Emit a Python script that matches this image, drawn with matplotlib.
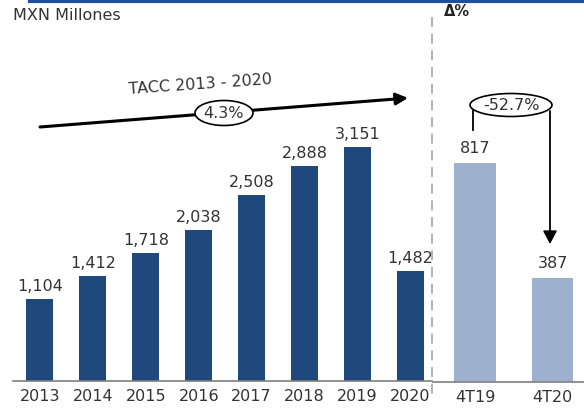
import matplotlib
matplotlib.use("Agg")
import matplotlib.pyplot as plt
from matplotlib.patches import Ellipse, FancyArrowPatch
from matplotlib.lines import Line2D

years = ["2013", "2014", "2015", "2016", "2017", "2018", "2019", "2020"]
annual = [1104, 1412, 1718, 2038, 2508, 2888, 3151, 1482]
quarters = ["4T19", "4T20"]
quarterly = [817, 387]
cagr_label = "TACC 2013 - 2020"
cagr_value = "4.3%"
delta_value = "-52.7%"

W, H = 584, 410
DARK = "#1F497D"
LIGHT = "#9DB0CE"
TXT = "#333333"
FS = 11.5
plt.rcParams['font.family'] = ['DejaVu Sans']

fig = plt.figure(figsize=(W / 100, H / 100), dpi=100)

def fx(x):
    return x / W

def fy(y):
    return 1 - y / H

base_y = 382
top_y = 30
# left axes
axL = fig.add_axes([fx(13), fy(base_y), fx(432) - fx(13), fy(top_y) - fy(base_y)])
xs = list(range(len(years)))
axL.bar(xs, annual, width=0.51, color=DARK)
axL.set_xlim(-0.51, 7.41)
axL.set_ylim(0, (base_y - top_y) / 0.0743)
for x, v in zip(xs, annual):
    axL.text(x, v + 80, f"{v:,}", ha="center", va="bottom", fontsize=FS, color=TXT)
axL.set_xticks(xs)
axL.set_xticklabels(years, fontsize=FS, color=TXT)

# right axes
axR = fig.add_axes([fx(433), fy(base_y + 1), 1 - fx(433), fy(top_y) - fy(base_y + 1)])
xq = list(range(len(quarters)))
axR.bar(xq, quarterly, width=0.53, color=LIGHT)
axR.set_xlim(-0.54, 1.40)
axR.set_ylim(0, (base_y - top_y) / 0.267)
for x, v in zip(xq, quarterly):
    axR.text(x, v + 30, f"{v:,}", ha="center", va="bottom", fontsize=FS, color=TXT)
axR.set_xticks(xq)
axR.set_xticklabels(quarters, fontsize=FS, color=TXT)

for ax in (axL, axR):
    for s in ("top", "right", "left"):
        ax.spines[s].set_visible(False)
    ax.spines["bottom"].set_color("#7F7F7F")
    ax.spines["bottom"].set_linewidth(1.2)
    ax.tick_params(axis="x", length=0, pad=5)
    ax.set_yticks([])
    ax.patch.set_alpha(0)

# top blue rule
fig.add_artist(Line2D([fx(30), 1], [fy(1.5), fy(1.5)], color="#1F4E9E", lw=3))
# dashed separator
fig.add_artist(Line2D([fx(432), fx(432)], [fy(18), fy(398)], color="#A6A6A6",
                      lw=1.2, ls=(0, (6, 4))))

fig.text(fx(13), fy(15), "MXN Millones", fontsize=FS, color=TXT, va="center", ha="left")
fig.text(fx(444), fy(12), "Δ%", fontsize=10.5, fontweight="bold", color="#222222",
         va="center", ha="left")

# CAGR arrow
fig.add_artist(FancyArrowPatch((fx(40), fy(128)), (fx(408), fy(99)), transform=fig.transFigure,
                               arrowstyle="-|>,head_length=5,head_width=2.5", color="black",
                               lw=2.2, mutation_scale=1.4, shrinkA=0, shrinkB=0, zorder=2))
fig.text(fx(200), fy(84), cagr_label, fontsize=FS, color=TXT, ha="center", va="center",
         rotation=4)
fig.add_artist(Ellipse((fx(224), fy(114)), fx(58), fy(0) - fy(25), transform=fig.transFigure,
                       fc="white", ec="black", lw=1.2, zorder=5))
fig.text(fx(224), fy(114), cagr_value, fontsize=FS, color=TXT, ha="center", va="center",
         zorder=6)

# Delta arrow
fig.add_artist(Line2D([fx(473), fx(473)], [fy(112), fy(131)], color="black", lw=1.3, zorder=2))
fig.add_artist(FancyArrowPatch(
    (fx(550), fy(112)), (fx(550), fy(245)), transform=fig.transFigure,
    arrowstyle="-|>,head_length=6,head_width=3.2", color="black", lw=1.3,
    mutation_scale=1.3, shrinkA=0, shrinkB=0, zorder=2))
fig.add_artist(Ellipse((fx(511), fy(106)), fx(82), fy(0) - fy(23), transform=fig.transFigure,
                       fc="white", ec="black", lw=1.2, zorder=5))
fig.text(fx(511), fy(106), delta_value, fontsize=FS, color=TXT, ha="center", va="center",
         zorder=6)

fig.savefig("out.png", dpi=100)
